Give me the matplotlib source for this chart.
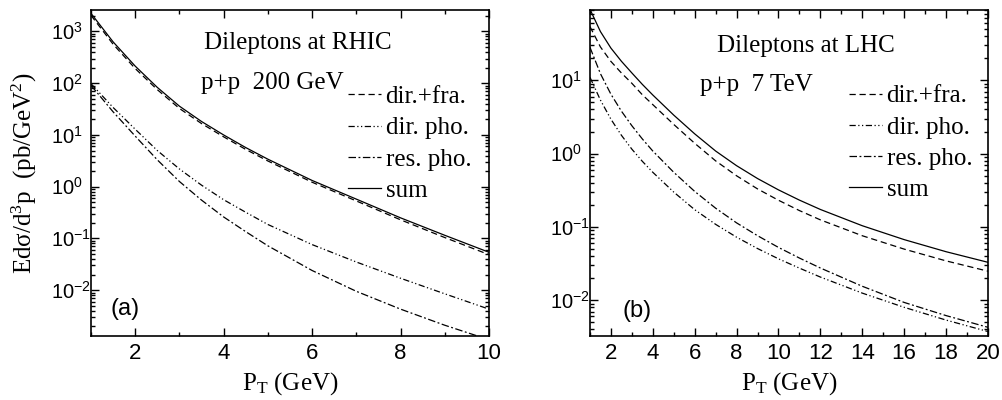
import numpy as np
import matplotlib.pyplot as plt
from matplotlib.ticker import MultipleLocator, LogLocator, FuncFormatter, NullFormatter

plt.rcParams['font.family'] = ['Liberation Serif', 'DejaVu Serif']
plt.rcParams['mathtext.fontset'] = 'custom'
plt.rcParams['mathtext.rm'] = 'Liberation Serif'
plt.rcParams['mathtext.it'] = 'Liberation Serif:italic'
plt.rcParams['mathtext.sf'] = 'Liberation Sans'

# (a) RHIC, p+p 200 GeV
pt_rhic = [1, 1.5, 2, 2.5, 3, 3.5, 4, 4.5, 5, 6, 7, 8, 9, 10]
sum_rhic = [2240, 630, 214, 83, 36, 18.2, 10, 5.7, 3.4, 1.32, 0.575, 0.25, 0.115, 0.054]
dirfra_rhic = [2050, 568, 192, 75, 32.5, 16.6, 9.2, 5.25, 3.14, 1.22, 0.53, 0.229, 0.104, 0.0486]
dirpho_rhic = [98, 34, 12.9, 5.0, 2.2, 1.07, 0.56, 0.32, 0.186, 0.076, 0.035, 0.017, 0.0085, 0.0043]
respho_rhic = [91, 28, 9.5, 3.3, 1.26, 0.55, 0.26, 0.135, 0.072, 0.024, 0.0095, 0.0043, 0.0021, 0.0011]

# (b) LHC, p+p 7 TeV
pt_lhc = [1, 1.5, 2, 2.5, 3, 3.5, 4, 5, 6, 7, 8, 9, 10, 11, 12, 14, 16, 18, 20]
sum_lhc = [93, 46.2, 27.5, 18.2, 12.6, 8.8, 6.3, 3.35, 1.86, 1.084, 0.684, 0.457, 0.32,
           0.232, 0.173, 0.1038, 0.0671, 0.0459, 0.0329]
dirfra_lhc = [54, 28.5, 18.1, 12.6, 9.1, 6.35, 4.66, 2.50, 1.383, 0.796, 0.498, 0.330, 0.231,
              0.167, 0.1248, 0.0758, 0.0498, 0.0344, 0.0249]
dirpho_lhc = [11, 5.37, 2.95, 1.78, 1.15, 0.785, 0.556, 0.2985, 0.1718, 0.1084, 0.0724, 0.0507,
              0.0367, 0.0274, 0.0207, 0.0125, 0.0080, 0.00536, 0.00374]
respho_lhc = [28.2, 12.3, 6.46, 3.8, 2.4, 1.585, 1.084, 0.556, 0.305, 0.18, 0.1135, 0.0759,
              0.0525, 0.0376, 0.0275, 0.0155, 0.00933, 0.00617, 0.00427]

labels = ['dir.+fra.', 'dir. pho.', 'res. pho.', 'sum']
styles = [(0, (5, 3)), (0, (5, 2, 1, 2, 1, 2)), (0, (6, 2, 1.5, 2)), '-']

fig = plt.figure(figsize=(10.03, 4.0), dpi=100)
ax1 = fig.add_axes([0.0907, 0.16, 0.3968, 0.815])
ax2 = fig.add_axes([0.5882, 0.16, 0.3968, 0.815])


def decade(v, pos):
    return r'$\mathsf{10^{%d}}$' % int(round(np.log10(v)))


def setup(ax, xmax, ylim, major):
    ax.set_yscale('log')
    ax.set_xlim(1, xmax)
    ax.set_ylim(*ylim)
    ax.xaxis.set_major_locator(MultipleLocator(major))
    ax.xaxis.set_minor_locator(MultipleLocator(1))
    ax.yaxis.set_major_locator(LogLocator(base=10))
    ax.yaxis.set_minor_locator(LogLocator(base=10, subs=np.arange(2, 10)))
    ax.yaxis.set_major_formatter(FuncFormatter(decade))
    ax.yaxis.set_minor_formatter(NullFormatter())
    ax.tick_params(which='both', direction='in', top=True, right=True, width=1)
    ax.tick_params(which='major', length=6)
    ax.tick_params(which='minor', length=3)
    ax.tick_params(axis='x', labelsize=16, pad=5)
    ax.tick_params(axis='y', labelsize=14.5, pad=29)
    for lab in ax.get_xticklabels():
        lab.set_family('Liberation Sans')
    for lab in ax.get_yticklabels():
        lab.set_horizontalalignment('left')
    for sp in ax.spines.values():
        sp.set_linewidth(1.2)
    ax.set_xlabel(r'P$_{\mathrm{T}}$ (GeV)', fontsize=18)
    ax.xaxis.set_label_coords(0.5, -0.105)


setup(ax1, 10, (1.3e-3, 2600), 2)
setup(ax2, 20, (3.25e-3, 91), 2)

for ax, pt, series in [
    (ax1, pt_rhic, [dirfra_rhic, dirpho_rhic, respho_rhic, sum_rhic]),
    (ax2, pt_lhc, [dirfra_lhc, dirpho_lhc, respho_lhc, sum_lhc]),
]:
    for y, lab, ls in zip(series, labels, styles):
        ax.plot(pt, y, color='black', lw=0.9, linestyle=ls, label=lab)

ax1.set_ylabel('Edσ/d$^{\\mathrm{3}}$p  (pb/GeV$^{\\mathrm{2}}$)', fontsize=18)
ax1.yaxis.set_label_coords(-0.13, 0.5)

ax1.text(0.52, 0.9, 'Dileptons at RHIC', transform=ax1.transAxes,
         fontsize=18, ha='center', va='center')
ax1.text(0.276, 0.776, 'p+p  200 GeV', transform=ax1.transAxes,
         fontsize=18, ha='left', va='center')
ax2.text(0.543, 0.89, 'Dileptons at LHC', transform=ax2.transAxes,
         fontsize=18, ha='center', va='center')
ax2.text(0.276, 0.77, 'p+p  7 TeV', transform=ax2.transAxes,
         fontsize=18, ha='left', va='center')

ax1.text(0.048, 0.083, '(a)', transform=ax1.transAxes, fontsize=17,
         family='Liberation Sans', ha='left', va='center')
ax2.text(0.083, 0.077, '(b)', transform=ax2.transAxes, fontsize=17,
         family='Liberation Sans', ha='left', va='center')

for ax, x0, y0 in [(ax1, 0.646, 0.768), (ax2, 0.651, 0.77)]:
    ax.legend(loc='upper left', bbox_to_anchor=(x0, y0), frameon=False,
              fontsize=18, handlelength=1.3, handletextpad=0.2,
              labelspacing=0.35, borderpad=0, borderaxespad=0)

fig.savefig('out.png', dpi=100)
